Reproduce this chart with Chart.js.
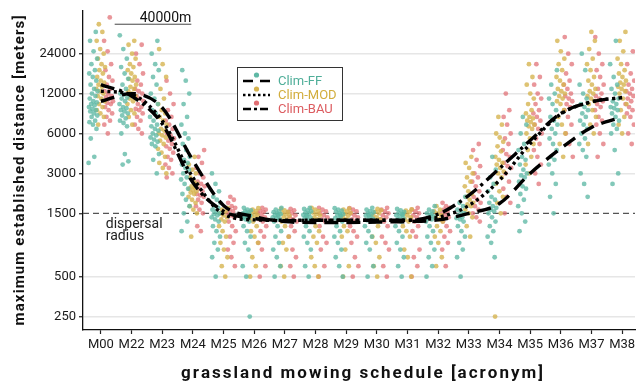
<!DOCTYPE html>
<html>
<head>
<meta charset="utf-8">
<script src="https://cdn.jsdelivr.net/npm/chart.js@4.4.1/dist/chart.umd.min.js"></script>
<style>
  html, body { margin: 0; padding: 0; background: #fff; }
  #wrap { width: 639px; height: 385px; }
</style>
</head>
<body>
<div id="wrap"><canvas id="chart" width="639" height="385"></canvas></div>
<script>
// ===== data =====
const categories = ['M00','M22','M23','M24','M25','M26','M27','M28','M29','M30','M31','M32','M33','M34','M35','M36','M37','M38'];
const yTicks = [250, 500, 1500, 3000, 6000, 12000, 24000];
const seriesNames = ['Clim-FF', 'Clim-MOD', 'Clim-BAU'];

// per category: max established distance of each replicate [m]
const ffValues = [
  [3600,4000,5500,6500,7000,7300,7500,8000,8200,8500,8800,9000,9200,9500,9800,10000,10300,10500,11000,11500,12000,12500,13000,14000,15000,16000,17000,18000,20000,22000,25000,30000,35000],
  [3500,3700,4200,6000,6800,7200,7500,7800,8200,8500,8800,9000,9300,9500,10000,10500,11000,11200,11800,12000,13000,14000,15500,17000,19000,22000,26000,33000],
  [3000,3800,4200,4800,5000,5200,5400,5600,5800,6000,6300,6500,6800,7000,7500,8000,8500,9000,10000,11000,12000,14000,16000,18000,20000,24000,30000],
  [1100,1300,1500,1700,1900,2100,2300,2500,2700,2800,3000,3200,3300,3500,3600,3800,4000,4500,5000,5500,6000,7000,8000,10000,12000,15000,18000],
  [500,700,800,900,1000,1100,1200,1300,1350,1400,1450,1480,1500,1550,1600,1650,1700,1800,1900,2000,2200,2500,3000],
  [250,500,600,800,900,1000,1100,1200,1300,1350,1380,1400,1420,1450,1470,1500,1520,1550,1580,1600,1650,1430,1490],
  [500,600,700,800,900,1000,1100,1200,1300,1350,1380,1400,1430,1450,1480,1500,1530,1560,1600,1650,1460],
  [500,600,800,900,1000,1100,1200,1300,1340,1380,1400,1430,1460,1490,1520,1550,1580,1620,1650,1440],
  [500,600,700,800,900,1000,1100,1200,1300,1350,1380,1420,1450,1480,1500,1540,1570,1600,1640,1460],
  [500,600,800,900,1000,1100,1200,1300,1330,1370,1400,1440,1470,1500,1530,1560,1600,1650,1450],
  [500,600,700,800,900,1000,1100,1200,1300,1350,1380,1420,1450,1480,1510,1540,1580,1620,1470],
  [500,600,700,800,900,1000,1100,1200,1300,1350,1380,1420,1450,1500,1550,1600,1700,1480],
  [500,700,800,900,1000,1100,1200,1300,1350,1380,1400,1450,1500,1550,1600,1700,1800,2000],
  [700,900,1000,1100,1200,1300,1400,1500,1550,1600,1650,1700,1800,1900,2000,2200,2500,2800,3200,4000],
  [1100,1300,1500,1700,1900,2100,2300,2400,2600,2800,2900,3000,3200,3500,3800,4000,4500,5000,6000,7000,8000],
  [1500,2000,2500,3000,3500,3800,4000,4500,5000,5500,6000,6500,7000,7500,8000,9000,10000,11000,12000,14000,18000],
  [2000,2500,3000,4000,4500,5000,5500,6000,6500,7000,7500,8000,8500,9000,9500,10000,11000,12000,14000,18000,24000],
  [2500,3000,4500,6000,6500,7000,7500,8000,8500,9000,9300,9500,10000,10500,11000,12000,13000,14000,16000,20000,30000]
];
const modValues = [
  [7000,8000,8500,9000,9500,10000,10500,11000,11500,12000,12500,13000,13500,14000,14500,15000,16000,17000,18000,19000,20000,22000,24000,26000,30000,35000,40000],
  [7000,8000,8500,9000,10000,10500,11000,11500,12000,12500,13000,13500,14000,15000,15500,16000,17000,18000,19000,20000,22000,24000,28000,30000],
  [3000,3300,3600,4000,4300,4600,5000,5300,5600,5800,6000,6300,6500,7000,7500,8000,8500,9000,10000,11000,13000,16000,20000,26000],
  [1000,1500,1600,1700,1800,1900,2000,2100,2150,2200,2250,2300,2350,2400,2500,2600,2800,3000,3200,3500,4000],
  [500,600,700,800,900,1000,1100,1200,1300,1350,1400,1450,1500,1550,1600,1650],
  [500,600,700,900,1000,1100,1200,1300,1350,1400,1430,1460,1500,1530,1560,1600,1640],
  [500,600,800,900,1000,1200,1300,1350,1400,1440,1470,1500,1540,1580,1620],
  [500,600,700,900,1000,1100,1200,1300,1350,1400,1450,1480,1520,1560,1600,1650],
  [500,600,800,1000,1100,1200,1300,1350,1400,1440,1480,1510,1550,1600,1630],
  [500,600,700,900,1000,1200,1300,1350,1400,1450,1500,1540,1580,1620],
  [500,700,800,1000,1100,1200,1300,1350,1400,1450,1490,1530,1570,1610],
  [600,700,900,1000,1100,1200,1300,1350,1400,1450,1500,1550,1600,1700],
  [1000,1200,1400,1500,1600,1700,1750,1800,1900,2000,2100,2200,2400,2600,2800,3000,3300,3600,4000],
  [250,1500,1800,2000,2200,2500,2800,3000,3100,3300,3500,3600,3800,4000,4400,4800,5200,5600,6000,7000,8000],
  [3000,3500,4000,4500,5000,5500,6000,6500,6800,7000,7300,7500,7800,8000,8500,9000,10000,11000,12000,14000,16000,20000],
  [4000,5000,6000,7000,8000,9000,10000,10500,11000,11500,12000,12500,13000,14000,15000,16000,18000,20000,22000,25000,30000],
  [5000,6000,7000,8000,9000,10000,10500,11000,11500,12000,12500,13000,14000,15000,16000,18000,20000,22000,26000,30000,35000],
  [6000,7000,8000,9000,10000,11000,12000,12500,13000,13500,14000,14500,15000,16000,17000,18000,20000,22000,25000,30000,35000]
];
const bauValues = [
  [6000,7000,7500,8000,8500,9000,9500,10000,10200,10500,11000,11300,11500,12000,12500,13000,14000,15000,16000,18000,20000,25000,30000,45000],
  [6000,6500,7000,7500,8000,8500,9000,9200,9500,10000,10500,11000,11500,12000,12500,13000,14000,15000,17000,20000,24000,28000],
  [2800,3000,3300,3500,3800,4000,4300,4600,4800,5000,5300,5500,5800,6000,6500,7000,7500,8000,9000,10000,12000,15000],
  [1100,1200,1500,1600,1700,1800,1900,2000,2050,2100,2200,2300,2400,2500,2600,2800,3000,3300,3600,4000,4500],
  [600,700,800,900,1000,1100,1200,1300,1400,1450,1500,1550,1600,1650,1700,1800,1900,2000],
  [500,600,800,900,1000,1100,1200,1300,1350,1400,1450,1500,1530,1560,1600,1650],
  [500,600,700,800,1000,1100,1200,1300,1350,1400,1450,1500,1540,1580,1620],
  [500,600,800,900,1000,1200,1300,1350,1400,1450,1500,1550,1600,1650],
  [500,600,700,900,1000,1100,1200,1300,1350,1400,1450,1500,1550,1600,1640],
  [500,600,800,900,1000,1200,1300,1350,1400,1450,1500,1550,1600,1650],
  [500,600,700,800,1000,1100,1200,1300,1350,1400,1450,1500,1550,1600,1650],
  [600,800,900,1000,1100,1200,1300,1400,1450,1500,1550,1600,1650,1700,1800],
  [1300,1400,1500,1600,1700,1800,1900,2000,2200,2400,2600,2800,3000,3400,3800,4500,5000],
  [1500,1800,2000,2300,2600,3000,3300,3400,3600,4000,4200,4500,5000,5500,6000,7000,8000,9000,12000],
  [2500,3000,3500,4000,4500,5000,5500,6000,6500,7000,7500,8000,8500,9000,10000,11000,12000,14000,16000,20000],
  [4000,5000,6000,7000,8000,9000,9500,10000,10500,11000,11500,12000,13000,14000,15000,17000,20000,24000,32000],
  [4000,5000,6000,7000,7500,8000,9000,9500,10000,10500,11000,11500,12000,13000,14000,16000,18000,20000,24000,32000],
  [5000,6000,7000,8000,8500,9000,9500,10000,10500,11000,11500,12000,12500,13000,14000,15000,17000,20000,25000]
];

// smoothed trend per scenario
const ffTrend  = [10500, 12000, 9400, 3760, 1720, 1420, 1300, 1280, 1280, 1290, 1300, 1340, 1500, 1780, 3000, 4630, 6660, 8000];
const modTrend = [12500, 11800, 7500, 2800, 1480, 1340, 1330, 1330, 1330, 1330, 1330, 1400, 1720, 2660, 5030, 8400, 10400, 11200];
const bauTrend = [14000, 11500, 7100, 2560, 1560, 1370, 1320, 1330, 1330, 1330, 1330, 1480, 2050, 3270, 5320, 8490, 10400, 11200];

const dispersalRadius = 1500;
const scaleBarValue = 40000;

// ===== styling =====
const pointColors = ['rgba(95,184,165,0.78)', 'rgba(214,180,80,0.8)', 'rgba(225,110,115,0.72)'];
const textColors  = ['#4fae99', '#d2ad3c', '#dc5c60'];
const dashes = [[14, 8], [3, 3.5], [14, 5, 3, 5]];
const dodge = [-0.25, 0, 0.25];
const FONT = 'Roboto, "DejaVu Sans", sans-serif';

// jittered scatter points: category index + dodge + small spread
function toPoints(values, s) {
  const pts = [];
  values.forEach((arr, i) => {
    arr.forEach((v, j) => {
      const jit = (((j * 0.618034 + i * 0.37 + s * 0.21) % 1) - 0.5) * 0.3;
      pts.push({ x: i + dodge[s] + jit, y: v });
    });
  });
  return pts;
}
const toLine = arr => arr.map((v, i) => ({ x: i, y: v }));

const trends = [ffTrend, modTrend, bauTrend];
const valueSets = [ffValues, modValues, bauValues];

const datasets = [];
trends.forEach((t, s) => {
  datasets.push({
    type: 'line',
    label: seriesNames[s] + ' trend',
    data: toLine(t),
    borderColor: '#000',
    borderWidth: 3.4,
    borderDash: dashes[s],
    borderCapStyle: 'butt',
    pointRadius: 0,
    cubicInterpolationMode: 'monotone',
    fill: false,
    order: 0
  });
});
valueSets.forEach((vals, s) => {
  datasets.push({
    type: 'scatter',
    label: seriesNames[s],
    data: toPoints(vals, s),
    backgroundColor: pointColors[s],
    borderWidth: 0,
    pointRadius: 2.4,
    order: 1
  });
});

// ===== annotations, legend and axis titles =====
function spacedText(ctx, text, cx, cy, targetWidth) {
  const chars = [...text];
  const widths = chars.map(c => ctx.measureText(c).width);
  const raw = widths.reduce((a, b) => a + b, 0);
  const gap = (targetWidth - raw) / (chars.length - 1);
  let x = cx - targetWidth / 2;
  ctx.textAlign = 'left';
  chars.forEach((c, k) => {
    ctx.fillText(c, x, cy);
    x += widths[k] + gap;
  });
}

const decor = {
  id: 'decor',
  beforeDatasetsDraw(chart) {
    const { ctx, chartArea: a, scales: { x, y } } = chart;
    const yr = y.getPixelForValue(dispersalRadius);
    ctx.save();
    ctx.strokeStyle = '#555';
    ctx.lineWidth = 1.1;
    ctx.setLineDash([6, 4]);
    ctx.beginPath();
    ctx.moveTo(a.left, yr);
    ctx.lineTo(a.right, yr);
    ctx.stroke();
    ctx.setLineDash([]);
    ctx.fillStyle = '#222';
    ctx.font = '14px ' + FONT;
    ctx.textAlign = 'left';
    ctx.textBaseline = 'alphabetic';
    ctx.fillText('dispersal', x.getPixelForValue(0.16), yr + 15);
    ctx.fillText('radius', x.getPixelForValue(0.16), yr + 27);
    ctx.restore();
  },
  afterDatasetsDraw(chart) {
    const { ctx, chartArea: a, scales: { x, y } } = chart;
    ctx.save();
    // scale bar at 40000 m
    const yb = y.getPixelForValue(scaleBarValue);
    const x0 = x.getPixelForValue(0.45), x1 = x.getPixelForValue(2.95);
    ctx.strokeStyle = '#444';
    ctx.lineWidth = 1;
    ctx.beginPath();
    ctx.moveTo(x0, yb);
    ctx.lineTo(x1, yb);
    ctx.stroke();
    ctx.fillStyle = '#111';
    ctx.font = '14px ' + FONT;
    ctx.textAlign = 'right';
    ctx.textBaseline = 'alphabetic';
    ctx.fillText(scaleBarValue + 'm', x1, yb - 2);

    // legend box
    const bx = 237.5, by = 67.5, bw = 105, bh = 53;
    ctx.fillStyle = '#fff';
    ctx.fillRect(bx, by, bw, bh);
    ctx.strokeStyle = '#333';
    ctx.lineWidth = 1;
    ctx.strokeRect(bx, by, bw, bh);
    const legDash = [[10, 7], [2.5, 2.5], [8, 3, 3, 3]];
    seriesNames.forEach((name, s) => {
      const ry = 81 + s * 14;
      ctx.strokeStyle = '#000';
      ctx.lineWidth = 2.6;
      ctx.setLineDash(legDash[s]);
      ctx.beginPath();
      ctx.moveTo(243, ry);
      ctx.lineTo(270, ry);
      ctx.stroke();
      ctx.setLineDash([]);
      ctx.fillStyle = pointColors[s].replace(/[\d.]+\)$/, '1)');
      ctx.beginPath();
      ctx.arc(256.5, ry - 6, 2.6, 0, Math.PI * 2);
      ctx.fill();
      ctx.fillStyle = textColors[s];
      ctx.font = '13px ' + FONT;
      ctx.textAlign = 'left';
      ctx.textBaseline = 'middle';
      ctx.fillText(name, 278, ry + 1);
    });

    // axis titles
    ctx.fillStyle = '#111';
    ctx.font = 'bold 17px ' + FONT;
    ctx.textBaseline = 'middle';
    spacedText(ctx, 'grassland mowing schedule [acronym]', (a.left + a.right) / 2 + 3, 374, 362);
    ctx.save();
    ctx.translate(20, (a.top + a.bottom) / 2);
    ctx.rotate(-Math.PI / 2);
    ctx.font = 'bold 15px ' + FONT;
    spacedText(ctx, 'maximum established distance [meters]', 0, 0, 310);
    ctx.restore();
    ctx.restore();
  }
};

new Chart(document.getElementById('chart'), {
  type: 'scatter',
  data: { datasets },
  plugins: [decor],
  options: {
    responsive: false,
    animation: false,
    devicePixelRatio: 1,
    layout: { padding: { top: 10, right: 0, bottom: 0, left: 0 } },
    plugins: {
      legend: { display: false },
      tooltip: { enabled: false }
    },
    scales: {
      x: {
        type: 'linear',
        min: -0.583,
        max: 17.42,
        afterBuildTicks: sc => { sc.ticks = categories.map((_, i) => ({ value: i })); },
        afterFit: sc => { sc.height = 55; },
        ticks: {
          callback: v => categories[v] ?? '',
          font: { family: FONT, size: 13 },
          color: '#1a1a1a',
          padding: 3,
          maxRotation: 0,
          autoSkip: false
        },
        grid: { drawOnChartArea: false, drawTicks: true, tickLength: 4, tickColor: '#222', tickWidth: 1.2 },
        border: { display: true, color: '#111', width: 1.3 }
      },
      y: {
        type: 'logarithmic',
        min: 198,
        max: 50500,
        afterBuildTicks: sc => { sc.ticks = yTicks.map(v => ({ value: v })); },
        afterFit: sc => { sc.width = 83; },
        ticks: {
          callback: v => String(v),
          font: { family: FONT, size: 13 },
          color: '#1a1a1a',
          padding: 3,
          autoSkip: false
        },
        grid: {
          color: c => (c.tick && c.tick.value === dispersalRadius) ? 'rgba(0,0,0,0)' : '#e6e6e6',
          lineWidth: 1.5,
          tickLength: 4,
          tickColor: '#222',
          tickWidth: 1.2
        },
        border: { display: true, color: '#111', width: 1.3 }
      }
    }
  }
});
</script>
</body>
</html>
